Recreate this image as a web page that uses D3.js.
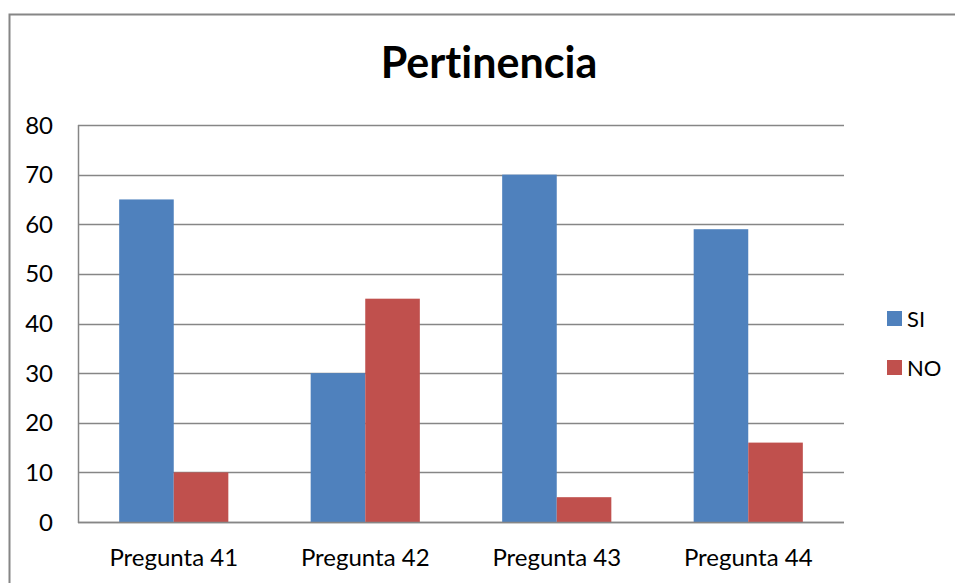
<!DOCTYPE html>
<html>
<head>
<meta charset="utf-8">
<script src="https://cdn.jsdelivr.net/npm/d3@7"></script>
<style>
  body { margin: 0; background: #fff; }
  svg text { font-family: Lato, "Open Sans", sans-serif; fill: #000; font-variant-ligatures: none; }
</style>
</head>
<body>
<div id="chart"></div>
<script>
// chart data
const categories = ["Pregunta 41", "Pregunta 42", "Pregunta 43", "Pregunta 44"];
const seriesNames = ["SI", "NO"];
const siValues = [65, 30, 70, 59];
const noValues = [10, 45, 5, 16];
const yTicks = [0, 10, 20, 30, 40, 50, 60, 70, 80];
const colors = ["#4F81BD", "#C0504D"];

const W = 955, H = 583;
const plot = { left: 78, top: 125, right: 844, bottom: 522 };

const svg = d3.select("#chart")
  .append("svg")
  .attr("width", W)
  .attr("height", H);

// outer chart border
svg.append("rect")
  .attr("x", 9.5)
  .attr("y", 14.5)
  .attr("width", W + 20)
  .attr("height", H + 20)
  .attr("fill", "none")
  .attr("stroke", "#868686")
  .attr("stroke-width", 2);

// title
svg.append("text")
  .attr("x", 489)
  .attr("y", 78)
  .attr("text-anchor", "middle")
  .style("font-size", "43px")
  .style("font-weight", "bold")
  .text("Pertinencia");

// scales
const x = d3.scaleBand()
  .domain(categories)
  .range([plot.left, plot.right])
  .paddingInner(0.43)
  .paddingOuter(0.215);

const xs = d3.scaleBand()
  .domain(seriesNames)
  .range([0, x.bandwidth()]);

const y = d3.scaleLinear()
  .domain([0, 80])
  .range([plot.bottom, plot.top]);

// gridlines
svg.append("g")
  .selectAll("line")
  .data(yTicks)
  .enter()
  .append("line")
  .attr("x1", plot.left)
  .attr("x2", plot.right)
  .attr("y1", (d) => Math.round(y(d)) + 0.5)
  .attr("y2", (d) => Math.round(y(d)) + 0.5)
  .attr("stroke", "#868686")
  .attr("stroke-width", 1.3);

// y axis labels
svg.append("g")
  .selectAll("text")
  .data(yTicks)
  .enter()
  .append("text")
  .attr("x", 53)
  .attr("y", (d) => y(d) + 8.5)
  .attr("text-anchor", "end")
  .style("font-size", "24px")
  .text((d) => d);

// bars
const rows = categories.map((c, i) => ({ cat: c, values: [siValues[i], noValues[i]] }));

const groups = svg.append("g")
  .selectAll("g")
  .data(rows)
  .enter()
  .append("g")
  .attr("transform", (d) => "translate(" + x(d.cat) + ",0)");

groups.selectAll("rect")
  .data((d) => d.values.map((v, j) => ({ name: seriesNames[j], value: v, color: colors[j] })))
  .enter()
  .append("rect")
  .attr("x", (d) => xs(d.name))
  .attr("y", (d) => y(d.value))
  .attr("width", xs.bandwidth())
  .attr("height", (d) => y(0) - y(d.value))
  .attr("fill", (d) => d.color);

// axis lines
svg.append("line")
  .attr("x1", plot.left + 0.5).attr("x2", plot.left + 0.5)
  .attr("y1", plot.top).attr("y2", plot.bottom + 1)
  .attr("stroke", "#868686").attr("stroke-width", 1.5);

svg.append("line")
  .attr("x1", plot.left).attr("x2", plot.right)
  .attr("y1", plot.bottom + 0.5).attr("y2", plot.bottom + 0.5)
  .attr("stroke", "#868686").attr("stroke-width", 1.5);

// x labels
svg.append("g")
  .selectAll("text")
  .data(categories)
  .enter()
  .append("text")
  .attr("x", (d) => x(d) + x.bandwidth() / 2)
  .attr("y", 566)
  .attr("text-anchor", "middle")
  .style("font-size", "24px")
  .text((d) => d);

// legend
const legend = svg.append("g")
  .selectAll("g")
  .data(seriesNames)
  .enter()
  .append("g")
  .attr("transform", (d, i) => "translate(887," + (311 + i * 49) + ")");

legend.append("rect")
  .attr("width", 15)
  .attr("height", 15)
  .attr("fill", (d, i) => colors[i]);

legend.append("text")
  .attr("x", 20)
  .attr("y", 16)
  .style("font-size", "22px")
  .text((d) => d);
</script>
</body>
</html>
